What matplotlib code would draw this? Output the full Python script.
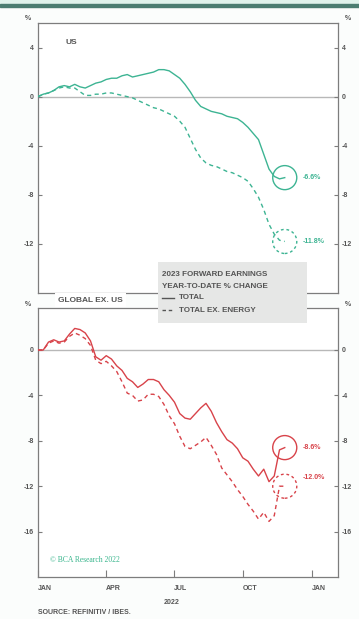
import numpy as np
import pandas as pd
import matplotlib
matplotlib.use('Agg')
import matplotlib.pyplot as plt
from matplotlib.patches import Rectangle
from matplotlib.lines import Line2D

plt.rcParams['font.family'] = ['Liberation Sans Narrow', 'Liberation Sans', 'DejaVu Sans']

#---------------- data: weekly 2023 fwd earnings, % change YTD ----------------
dates = pd.date_range('2022-01-01', periods=48, freq='7D')

us_total = [0.0, 0.2, 0.3, 0.5, 0.8, 0.9, 0.8, 1.0, 0.8, 0.7,
            0.9, 1.1, 1.2, 1.4, 1.5, 1.5, 1.7, 1.8, 1.6, 1.7,
            1.8, 1.9, 2.0, 2.2, 2.2, 2.1, 1.8, 1.5, 1.0, 0.4,
            -0.3, -0.8, -1.0, -1.2, -1.3, -1.4, -1.6, -1.7, -1.8, -2.1,
            -2.5, -3.0, -3.5, -4.7, -5.9, -6.5, -6.7, -6.6]
us_ex_energy = [0.0, 0.2, 0.3, 0.5, 0.7, 0.8, 0.7, 0.7, 0.4, 0.1,
                0.1, 0.2, 0.2, 0.3, 0.3, 0.2, 0.1, 0.0, -0.1, -0.3,
                -0.5, -0.7, -0.9, -1.0, -1.2, -1.4, -1.6, -2.0, -2.5, -3.4,
                -4.3, -5.0, -5.4, -5.6, -5.7, -5.9, -6.1, -6.2, -6.4, -6.6,
                -6.9, -7.5, -8.2, -9.2, -10.4, -11.2, -11.7, -11.8]
glb_total = [0.0, 0.0, 0.7, 0.9, 0.7, 0.8, 1.4, 1.9, 1.8, 1.5,
             0.8, -0.6, -0.9, -0.5, -0.8, -1.4, -1.8, -2.5, -2.8, -3.3,
             -3.0, -2.6, -2.6, -2.8, -3.5, -4.0, -4.6, -5.6, -6.0, -6.1,
             -5.6, -5.1, -4.7, -5.4, -6.4, -7.2, -7.9, -8.2, -8.7, -9.5,
             -9.8, -10.5, -11.1, -10.5, -11.6, -11.1, -8.8, -8.6]
glb_ex_energy = [0.0, 0.0, 0.6, 0.8, 0.6, 0.7, 1.2, 1.5, 1.3, 1.0,
                 0.4, -0.9, -1.2, -1.0, -1.4, -1.9, -2.8, -3.8, -4.0, -4.5,
                 -4.4, -3.9, -3.9, -4.1, -4.8, -5.8, -6.5, -7.6, -8.5, -8.7,
                 -8.4, -8.1, -7.7, -8.4, -9.2, -10.4, -11.0, -11.6, -12.3, -12.9,
                 -13.6, -14.2, -14.9, -14.3, -15.1, -14.6, -12.0, -12.0]

month_ticks = pd.to_datetime(['2022-01-01', '2022-04-01', '2022-07-01', '2022-10-01', '2023-01-01'])
month_labels = ['JAN', 'APR', 'JUL', 'OCT', 'JAN']
us_yticks = [4, 0, -4, -8, -12]
glb_yticks = [0, -4, -8, -12, -16]

TEAL = '#3db493'
RED = '#d8434a'
GREY = '#555555'
SPINE = '#7d7d7d'

#---------------- figure (laid out in pixels) ----------------
W, H = 359, 619
fig = plt.figure(figsize=(W / 100, H / 100), dpi=100, facecolor='#fbfdfc')

def fx(x): return x / W
def fy(y): return 1 - y / H

fig.add_artist(Rectangle((0, fy(4)), 1, 4 / H, transform=fig.transFigure, color='#e0f3ec', zorder=0))
fig.add_artist(Rectangle((0, fy(6.5)), 1, 2.5 / H, transform=fig.transFigure, color='#4b7d71', zorder=0))

ax1 = fig.add_axes([fx(38), fy(293), 300 / W, 270 / H])
ax2 = fig.add_axes([fx(38), fy(577), 300 / W, 269 / H])

def ax_settings(ax, ylim, yticks):
    ax.set_facecolor('white')
    ax.set_xlim(pd.Timestamp('2022-01-01'), pd.Timestamp('2023-02-05'))
    ax.set_ylim(*ylim)
    ax.set_yticks(yticks)
    ax.set_yticklabels([str(t) for t in yticks], fontweight='bold')
    ax.axhline(0, color='#b8b8b8', lw=1.0, zorder=1)
    for s in ax.spines.values():
        s.set_color(SPINE)
        s.set_linewidth(0.9)
    ax.tick_params(axis='y', direction='in', length=3, width=0.8, color=SPINE,
                   left=True, right=True, labelleft=True, labelright=True,
                   labelsize=5, labelcolor=GREY, pad=3)

ax_settings(ax1, (-16, 6), us_yticks)
ax_settings(ax2, (-20, 3.7), glb_yticks)

ax1.set_xticks([])
ax2.set_xticks(month_ticks)
ax2.set_xticklabels(month_labels, ha='left', fontweight='bold')
ax2.tick_params(axis='x', direction='in', length=5, width=0.8, color=SPINE,
                labelsize=5, labelcolor=GREY, pad=6)

def draw_pair(ax, total, ex_energy, color, ex_dy):
    ax.plot(dates, total, color=color, lw=1.0, zorder=3)
    ax.plot(dates, ex_energy, color=color, lw=1.0, dashes=(3, 2.5), zorder=3)
    for vals, ls, dy in ((total, '-', 0), (ex_energy, (0, (2, 2)), ex_dy)):
        ax.scatter([dates[-1]], [vals[-1]], s=300, facecolors='none', edgecolors=color,
                   linewidths=1.0, linestyles=[ls], zorder=4, clip_on=False)
        ax.annotate('%.1f%%' % vals[-1], xy=(dates[-1], vals[-1]), xytext=(13, dy),
                    textcoords='offset points', ha='left', va='center',
                    fontsize=5, color=color, fontweight='bold')

draw_pair(ax1, us_total, us_ex_energy, TEAL, 0)
draw_pair(ax2, glb_total, glb_ex_energy, RED, 6)

#---------------- texts ----------------
txt = dict(color=GREY, fontweight='bold')
for x in (28, 348):
    fig.text(fx(x), fy(19), '%', fontsize=5, ha='center', va='center', **txt)
    fig.text(fx(x), fy(304), '%', fontsize=5, ha='center', va='center', **txt)
fig.text(fx(65), fy(42), 'US', fontsize=6, ha='left', va='center', **txt)
fig.text(fx(58), fy(300), 'GLOBAL EX. US', fontsize=6, ha='left', va='center',
         bbox=dict(facecolor='white', edgecolor='none', pad=2.5), zorder=5, **txt)
fig.text(fx(50), fy(560), '\u00a9 BCA Research 2022', fontsize=5.5, ha='left', va='center',
         color='#38b58c', family=['Liberation Serif', 'DejaVu Serif'])
fig.text(fx(172), fy(602), '2022', fontsize=5, ha='center', va='center', **txt)
fig.text(fx(38), fy(613), 'SOURCE: REFINITIV / IBES.', fontsize=5, ha='left', va='center', **txt)

# legend panel straddling both charts
fig.add_artist(Rectangle((fx(158), fy(323)), 149 / W, 61 / H, transform=fig.transFigure,
                         facecolor='#e6e7e6', edgecolor='none', zorder=6))
fig.text(fx(162), fy(275), '2023 FORWARD EARNINGS', fontsize=5.8, va='center', zorder=7, **txt)
fig.text(fx(162), fy(287), 'YEAR-TO-DATE % CHANGE', fontsize=5.8, va='center', zorder=7, **txt)
fig.add_artist(Line2D([fx(162), fx(174)], [fy(298), fy(298)], color=GREY, lw=1.0, zorder=7))
fig.add_artist(Line2D([fx(162), fx(174)], [fy(310), fy(310)], color=GREY, lw=1.0,
                      dashes=(2.5, 2), zorder=7))
fig.text(fx(179), fy(298), 'TOTAL', fontsize=5.8, va='center', zorder=7, **txt)
fig.text(fx(179), fy(310), 'TOTAL EX. ENERGY', fontsize=5.8, va='center', zorder=7, **txt)

fig.savefig('out.png', dpi=100, facecolor=fig.get_facecolor())
